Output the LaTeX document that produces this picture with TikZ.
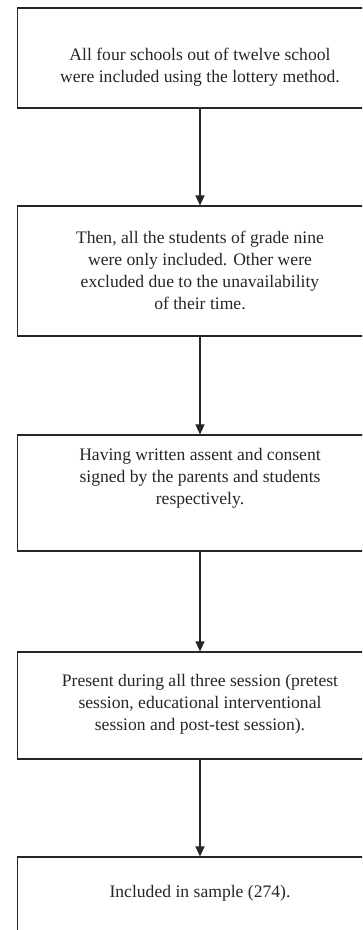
\documentclass[tikz,border=0pt]{standalone}
\usepackage{fontspec}
\setmainfont{Liberation Serif}
\usetikzlibrary{arrows.meta}

\begin{document}
\begin{tikzpicture}[x=1pt,y=-1pt,
  stage/.style={draw=black!85,line width=1.1pt,minimum width=365pt,inner sep=0pt},
  stagetext/.style={align=center,inner sep=0pt,font=\fontsize{17.6}{22}\selectfont,text=black!85},
  flow/.style={draw=black!85,line width=1.1pt,-{Triangle[length=10pt,width=9pt]}}]

 \useasboundingbox (0,0) rectangle (362,930);
 \clip (0,0) rectangle (362,930);

 % boxes (right edges run off the page)
 \node[stage,minimum height=100pt] (s1) at (200,58) {};
 \node[stage,minimum height=130pt] (s2) at (200,271) {};
 \node[stage,minimum height=116pt] (s3) at (200,493) {};
 \node[stage,minimum height=107pt] (s4) at (200,705.5) {};
 \node[stage,minimum height=120pt] (s5) at (200,917) {};

 % texts
 \node[stagetext] (t1) at (200,67) {All four schools out of twelve school\\were included using the lottery method.};
 \node[stagetext] (t2) at (200,270) {Then, all the students of grade nine\\were only included. Other were\\excluded due to the unavailability\\of their time.};
 \node[stagetext] (t3) at (200,478) {Having written assent and consent\\signed by the parents and students\\respectively.};
 \node[stagetext] (t4) at (200,704) {Present during all three session (pretest\\session, educational interventional\\session and post-test session).};
 \node[stagetext] (t5) at (200,893) {Included in sample (274).};

 % arrows
 \draw[flow] (s1) -- (s2);
 \draw[flow] (s2) -- (s3);
 \draw[flow] (s3) -- (s4);
 \draw[flow] (s4) -- (s5);

\end{tikzpicture}
\end{document}
